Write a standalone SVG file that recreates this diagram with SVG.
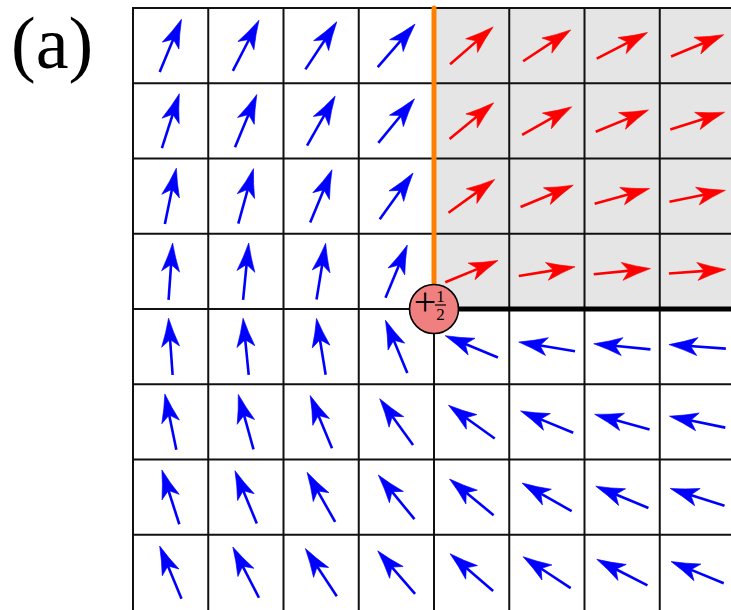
<svg xmlns="http://www.w3.org/2000/svg" xmlns:xlink="http://www.w3.org/1999/xlink" width="731" height="610" viewBox="0 0 731 610">
<style>
.grid line{stroke:#111;stroke-width:2}
.stem{fill:none;stroke:currentColor;stroke-width:2.6}
.head{fill:currentColor;stroke:currentColor;stroke-width:0.6;stroke-linejoin:round}
.b{color:#0000ff}
.r{color:#ff0000}
.serif{font-family:"Liberation Serif","Times New Roman","DejaVu Serif",serif;fill:#000}
</style>
<defs>
<g id="arr"><path class="stem" d="M-28.5,0H8"/><path class="head" d="M28.5,0Q14,-3.6 0,-9L7,0L0,9Q14,3.6 28.5,0Z"/></g>
</defs>
<rect width="731" height="610" fill="#fff"/>
<text class="serif" x="11" y="68" font-size="74">(a)</text>
<rect x="434" y="8" width="297" height="301" fill="#e5e5e5"/>
<g class="grid">
<line x1="133" y1="8" x2="133" y2="610"/>
<line x1="208.25" y1="8" x2="208.25" y2="610"/>
<line x1="283.5" y1="8" x2="283.5" y2="610"/>
<line x1="358.75" y1="8" x2="358.75" y2="610"/>
<line x1="434" y1="8" x2="434" y2="610"/>
<line x1="509.25" y1="8" x2="509.25" y2="610"/>
<line x1="584.5" y1="8" x2="584.5" y2="610"/>
<line x1="659.75" y1="8" x2="659.75" y2="610"/>
<line x1="132" y1="8" x2="731" y2="8"/>
<line x1="132" y1="83.25" x2="731" y2="83.25"/>
<line x1="132" y1="158.5" x2="731" y2="158.5"/>
<line x1="132" y1="233.75" x2="731" y2="233.75"/>
<line x1="132" y1="309" x2="731" y2="309"/>
<line x1="132" y1="384.25" x2="731" y2="384.25"/>
<line x1="132" y1="459.5" x2="731" y2="459.5"/>
<line x1="132" y1="534.75" x2="731" y2="534.75"/>
</g>
<g id="connectors">
<line x1="434" y1="8" x2="434" y2="309" stroke="#ff8000" stroke-width="5" stroke-linecap="round"/>
<line x1="434" y1="309" x2="731" y2="309" stroke="#000" stroke-width="5"/>
</g>
<g id="arrows">
<use xlink:href="#arr" class="b" transform="translate(170.6,45.6) rotate(-67.5)"/>
<use xlink:href="#arr" class="b" transform="translate(245.9,45.6) rotate(-62.77)"/>
<use xlink:href="#arr" class="b" transform="translate(321.1,45.6) rotate(-56.6)"/>
<use xlink:href="#arr" class="b" transform="translate(396.4,45.6) rotate(-49.07)"/>
<use xlink:href="#arr" class="r" transform="translate(471.6,45.6) rotate(-40.94)"/>
<use xlink:href="#arr" class="r" transform="translate(546.9,45.6) rotate(-33.4)"/>
<use xlink:href="#arr" class="r" transform="translate(622.1,45.6) rotate(-27.23)"/>
<use xlink:href="#arr" class="r" transform="translate(697.4,45.6) rotate(-22.5)"/>

<use xlink:href="#arr" class="b" transform="translate(170.6,120.9) rotate(-72.23)"/>
<use xlink:href="#arr" class="b" transform="translate(245.9,120.9) rotate(-67.5)"/>
<use xlink:href="#arr" class="b" transform="translate(321.1,120.9) rotate(-60.48)"/>
<use xlink:href="#arr" class="b" transform="translate(396.4,120.9) rotate(-50.66)"/>
<use xlink:href="#arr" class="r" transform="translate(471.6,120.9) rotate(-39.35)"/>
<use xlink:href="#arr" class="r" transform="translate(546.9,120.9) rotate(-29.52)"/>
<use xlink:href="#arr" class="r" transform="translate(622.1,120.9) rotate(-22.5)"/>
<use xlink:href="#arr" class="r" transform="translate(697.4,120.9) rotate(-17.77)"/>

<use xlink:href="#arr" class="b" transform="translate(170.6,196.1) rotate(-78.4)"/>
<use xlink:href="#arr" class="b" transform="translate(245.9,196.1) rotate(-74.52)"/>
<use xlink:href="#arr" class="b" transform="translate(321.1,196.1) rotate(-67.5)"/>
<use xlink:href="#arr" class="b" transform="translate(396.4,196.1) rotate(-54.22)"/>
<use xlink:href="#arr" class="r" transform="translate(471.6,196.1) rotate(-35.78)"/>
<use xlink:href="#arr" class="r" transform="translate(546.9,196.1) rotate(-22.5)"/>
<use xlink:href="#arr" class="r" transform="translate(622.1,196.1) rotate(-15.48)"/>
<use xlink:href="#arr" class="r" transform="translate(697.4,196.1) rotate(-11.6)"/>

<use xlink:href="#arr" class="b" transform="translate(170.6,271.4) rotate(-85.94)"/>
<use xlink:href="#arr" class="b" transform="translate(245.9,271.4) rotate(-84.35)"/>
<use xlink:href="#arr" class="b" transform="translate(321.1,271.4) rotate(-80.78)"/>
<use xlink:href="#arr" class="b" transform="translate(396.4,271.4) rotate(-67.5)"/>
<use xlink:href="#arr" class="r" transform="translate(471.6,271.4) rotate(-22.5)"/>
<use xlink:href="#arr" class="r" transform="translate(546.9,271.4) rotate(-9.22)"/>
<use xlink:href="#arr" class="r" transform="translate(622.1,271.4) rotate(-5.66)"/>
<use xlink:href="#arr" class="r" transform="translate(697.4,271.4) rotate(-4.07)"/>

<use xlink:href="#arr" class="b" transform="translate(170.6,346.6) rotate(-94.07)"/>
<use xlink:href="#arr" class="b" transform="translate(245.9,346.6) rotate(-95.66)"/>
<use xlink:href="#arr" class="b" transform="translate(321.1,346.6) rotate(-99.22)"/>
<use xlink:href="#arr" class="b" transform="translate(396.4,346.6) rotate(-112.5)"/>
<use xlink:href="#arr" class="b" transform="translate(471.6,346.6) rotate(-157.5)"/>
<use xlink:href="#arr" class="b" transform="translate(546.9,346.6) rotate(-170.78)"/>
<use xlink:href="#arr" class="b" transform="translate(622.1,346.6) rotate(-174.35)"/>
<use xlink:href="#arr" class="b" transform="translate(697.4,346.6) rotate(-175.94)"/>

<use xlink:href="#arr" class="b" transform="translate(170.6,421.9) rotate(-101.6)"/>
<use xlink:href="#arr" class="b" transform="translate(245.9,421.9) rotate(-105.48)"/>
<use xlink:href="#arr" class="b" transform="translate(321.1,421.9) rotate(-112.5)"/>
<use xlink:href="#arr" class="b" transform="translate(396.4,421.9) rotate(-125.78)"/>
<use xlink:href="#arr" class="b" transform="translate(471.6,421.9) rotate(-144.22)"/>
<use xlink:href="#arr" class="b" transform="translate(546.9,421.9) rotate(-157.5)"/>
<use xlink:href="#arr" class="b" transform="translate(622.1,421.9) rotate(-164.52)"/>
<use xlink:href="#arr" class="b" transform="translate(697.4,421.9) rotate(-168.4)"/>

<use xlink:href="#arr" class="b" transform="translate(170.6,497.1) rotate(-107.77)"/>
<use xlink:href="#arr" class="b" transform="translate(245.9,497.1) rotate(-112.5)"/>
<use xlink:href="#arr" class="b" transform="translate(321.1,497.1) rotate(-119.52)"/>
<use xlink:href="#arr" class="b" transform="translate(396.4,497.1) rotate(-129.35)"/>
<use xlink:href="#arr" class="b" transform="translate(471.6,497.1) rotate(-140.66)"/>
<use xlink:href="#arr" class="b" transform="translate(546.9,497.1) rotate(-150.48)"/>
<use xlink:href="#arr" class="b" transform="translate(622.1,497.1) rotate(-157.5)"/>
<use xlink:href="#arr" class="b" transform="translate(697.4,497.1) rotate(-162.23)"/>

<use xlink:href="#arr" class="b" transform="translate(170.6,572.4) rotate(-112.5)"/>
<use xlink:href="#arr" class="b" transform="translate(245.9,572.4) rotate(-117.23)"/>
<use xlink:href="#arr" class="b" transform="translate(321.1,572.4) rotate(-123.4)"/>
<use xlink:href="#arr" class="b" transform="translate(396.4,572.4) rotate(-130.94)"/>
<use xlink:href="#arr" class="b" transform="translate(471.6,572.4) rotate(-139.07)"/>
<use xlink:href="#arr" class="b" transform="translate(546.9,572.4) rotate(-146.6)"/>
<use xlink:href="#arr" class="b" transform="translate(622.1,572.4) rotate(-152.77)"/>
<use xlink:href="#arr" class="b" transform="translate(697.4,572.4) rotate(-157.5)"/>
</g>
<g id="defect">
<circle cx="434" cy="309" r="24.5" fill="#f08080" stroke="#000" stroke-width="1.6"/>
<text class="serif" x="425" y="315" font-size="40" text-anchor="middle">+</text>
<text class="serif" x="440.5" y="302" font-size="17" text-anchor="middle">1</text>
<line x1="435" y1="305" x2="446" y2="305" stroke="#000" stroke-width="1.2"/>
<text class="serif" x="440.5" y="320" font-size="17" text-anchor="middle">2</text>
</g>
</svg>
